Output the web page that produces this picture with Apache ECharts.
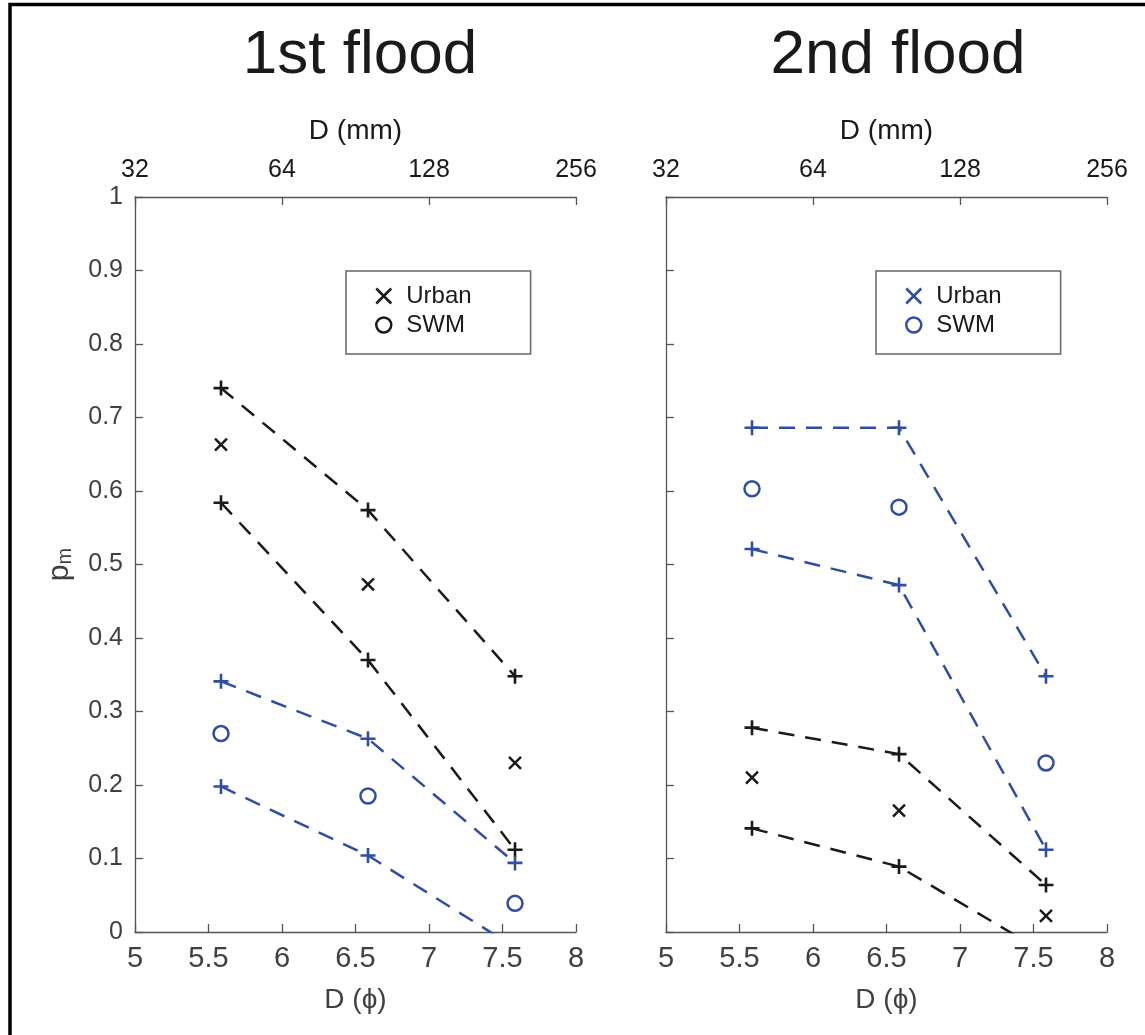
<!DOCTYPE html>
<html>
<head>
<meta charset="utf-8">
<script src="https://cdn.jsdelivr.net/npm/echarts@6/dist/echarts.min.js"></script>
<style>
  html, body { margin: 0; padding: 0; background: #fff; }
  #chart { width: 1145px; height: 1035px; }
</style>
</head>
<body>
<div id="chart"></div>
<script>
// grain size in phi units (48, 96, 192 mm)
var phi = [5.585, 6.585, 7.585];
var mmLabels = ['32', '64', '128', '256'];
var titles = ['1st flood', '2nd flood'];

// 1st flood
var f1UrbanHigh = [0.740, 0.574, 0.348];
var f1Urban     = [0.663, 0.473, 0.230];
var f1UrbanLow  = [0.584, 0.370, 0.112];
var f1SwmHigh   = [0.341, 0.263, 0.094];
var f1Swm       = [0.270, 0.185, 0.039];
var f1SwmLow    = [0.198, 0.104, -0.021];

// 2nd flood
var f2SwmHigh   = [0.686, 0.686, 0.348];
var f2Swm       = [0.603, 0.578, 0.230];
var f2SwmLow    = [0.521, 0.472, 0.112];
var f2UrbanHigh = [0.278, 0.242, 0.064];
var f2Urban     = [0.210, 0.165, 0.022];
var f2UrbanLow  = [0.141, 0.089, -0.029];

var font = 'Liberation Sans, Arial, sans-serif';
var black = '#1a1a1a';
var blue = '#2d4ea3';
var axisCol = '#555555';
var labelCol = '#404040';

var plusPath = 'path://M0,6 L12,6 M6,0 L6,12';
var crossPath = 'path://M0,0 L12,12 M12,0 L0,12';

function pts(vals) {
  return vals.map(function(v, i) { return [phi[i], v]; });
}

function rangeLine(name, vals, color, idx) {
  return {
    type: 'line', name: name, xAxisIndex: idx * 2, yAxisIndex: idx,
    data: pts(vals), clip: true,
    symbol: plusPath, symbolSize: 15,
    itemStyle: { color: 'rgba(0,0,0,0)', borderColor: color, borderWidth: 2.6 },
    lineStyle: { color: color, width: 2.5, type: [16, 11] },
    emphasis: { disabled: true }, silent: true, z: 3
  };
}

function marks(name, vals, color, symbol, size, idx) {
  return {
    type: 'scatter', name: name, xAxisIndex: idx * 2, yAxisIndex: idx,
    data: pts(vals), symbol: symbol, symbolSize: size,
    itemStyle: { color: 'rgba(0,0,0,0)', borderColor: color, borderWidth: 2.5, opacity: 1 },
    emphasis: { disabled: true }, silent: true, z: 4
  };
}

var grids = [
  { left: 135, right: 569, top: 197, bottom: 103 },
  { left: 666, right: 38, top: 197, bottom: 103 }
];

var xAxes = [];
var yAxes = [];
grids.forEach(function(g, i) {
  xAxes.push({
    type: 'value', gridIndex: i, position: 'bottom', min: 5, max: 8, interval: 0.5,
    axisLine: { show: true, lineStyle: { color: axisCol, width: 1.3 } },
    axisTick: { inside: true, length: 8, lineStyle: { color: axisCol, width: 1.3 } },
    axisLabel: { color: labelCol, fontSize: 29, fontFamily: font, margin: 12 },
    splitLine: { show: false },
    name: 'D (\u03d5)', nameLocation: 'middle', nameGap: 54,
    nameTextStyle: { color: labelCol, fontSize: 28, fontFamily: font }
  });
  xAxes.push({
    type: 'value', gridIndex: i, position: 'top', min: 5, max: 8, interval: 1,
    axisLine: { show: true, lineStyle: { color: axisCol, width: 1.3 } },
    axisTick: { inside: true, length: 8, lineStyle: { color: axisCol, width: 1.3 } },
    axisLabel: {
      color: black, fontSize: 25, fontFamily: font, margin: 14,
      formatter: function(v) { return mmLabels[Math.round(v - 5)]; }
    },
    splitLine: { show: false },
    name: 'D (mm)', nameLocation: 'middle', nameGap: 52,
    nameTextStyle: { color: black, fontSize: 28, fontFamily: font }
  });
  yAxes.push({
    type: 'value', gridIndex: i, min: 0, max: 1, interval: 0.1,
    axisLine: { show: true, lineStyle: { color: axisCol, width: 1.3 } },
    axisTick: { inside: true, length: 8, lineStyle: { color: axisCol, width: 1.3 } },
    axisLabel: { show: i === 0, color: labelCol, fontSize: 25, fontFamily: font, margin: 12 },
    splitLine: { show: false },
    name: i === 0 ? '{p|p}{m|m}' : '', nameLocation: 'middle', nameGap: 60, nameRotate: 90,
    nameTextStyle: {
      color: labelCol, fontFamily: font,
      rich: {
        p: { fontSize: 30, lineHeight: 30, color: labelCol, fontFamily: font },
        m: { fontSize: 20, lineHeight: 10, verticalAlign: 'bottom', color: labelCol, fontFamily: font }
      }
    }
  });
});

function legendFor(i, left, urbanCol, swmCol) {
  return {
    orient: 'vertical', left: left, top: 271,
    padding: [13, 59, 17, 29],
    itemWidth: 15, itemHeight: 15, itemGap: 5,
    borderColor: '#666', borderWidth: 1.5, backgroundColor: '#fff',
    selectedMode: false,
    formatter: function(n) { return n.split('-')[0]; },
    textStyle: { color: black, fontSize: 24, fontFamily: font, padding: [0, 0, 0, 10] },
    data: [
      { name: 'Urban-' + i, icon: crossPath,
        itemStyle: { color: 'rgba(0,0,0,0)', borderColor: urbanCol, borderWidth: 2.5 } },
      { name: 'SWM-' + i, icon: 'circle',
        itemStyle: { color: 'rgba(0,0,0,0)', borderColor: swmCol, borderWidth: 2.5 } }
    ]
  };
}

var chart = echarts.init(document.getElementById('chart'), null, { renderer: 'canvas' });
chart.setOption({
  animation: false,
  backgroundColor: '#fff',
  title: [
    { text: titles[0], left: 360, top: 25, padding: 0, textAlign: 'center',
      textStyle: { fontSize: 62, fontWeight: 'normal', color: black, fontFamily: font } },
    { text: titles[1], left: 898, top: 25, padding: 0, textAlign: 'center',
      textStyle: { fontSize: 62, fontWeight: 'normal', color: black, fontFamily: font } }
  ],
  graphic: [{
    type: 'rect', silent: true,
    shape: { x: 10, y: 4.5, width: 1200, height: 1100 },
    style: { fill: 'none', stroke: '#000', lineWidth: 3.5 }
  }],
  grid: grids,
  xAxis: xAxes,
  yAxis: yAxes,
  legend: [legendFor(1, 346, black, black), legendFor(2, 876, blue, blue)],
  series: [
    rangeLine('Urban high-1', f1UrbanHigh, black, 0),
    rangeLine('Urban low-1', f1UrbanLow, black, 0),
    rangeLine('SWM high-1', f1SwmHigh, blue, 0),
    rangeLine('SWM low-1', f1SwmLow, blue, 0),
    marks('Urban-1', f1Urban, black, crossPath, 12, 0),
    marks('SWM-1', f1Swm, blue, 'circle', 15, 0),

    rangeLine('SWM high-2', f2SwmHigh, blue, 1),
    rangeLine('SWM low-2', f2SwmLow, blue, 1),
    rangeLine('Urban high-2', f2UrbanHigh, black, 1),
    rangeLine('Urban low-2', f2UrbanLow, black, 1),
    marks('Urban-2', f2Urban, black, crossPath, 12, 1),
    marks('SWM-2', f2Swm, blue, 'circle', 15, 1)
  ]
});
window.addEventListener('resize', function() { chart.resize(); });
</script>
</body>
</html>
